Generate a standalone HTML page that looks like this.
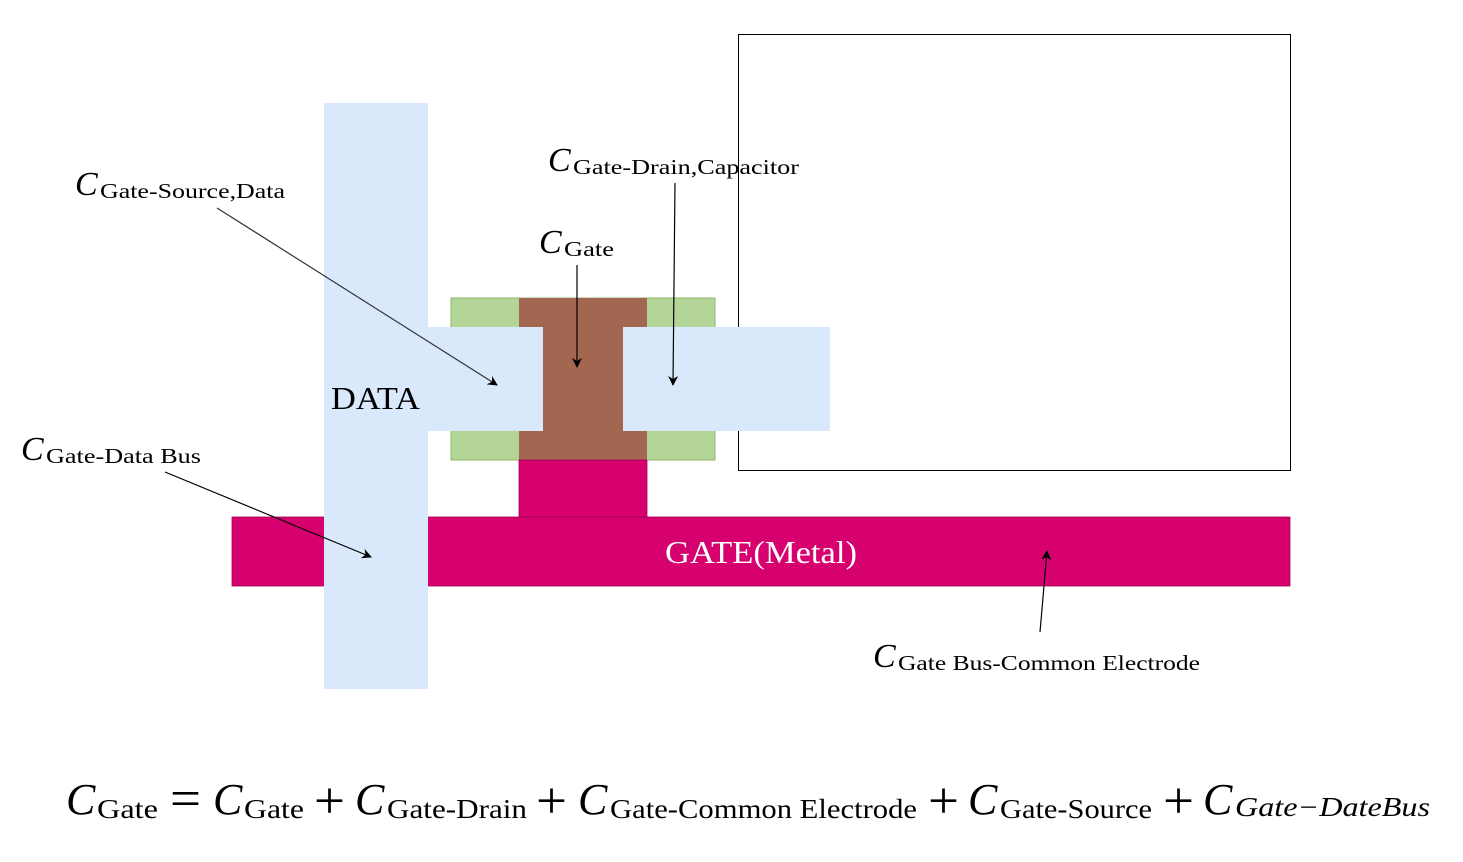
<!DOCTYPE html>
<html><head><meta charset="utf-8"><style>html,body{margin:0;padding:0;background:#fff}svg{display:block}</style></head>
<body>
<svg width="1463" height="862" viewBox="0 0 1463 862" xmlns="http://www.w3.org/2000/svg" font-family="'Liberation Serif', serif">
<defs><marker id="a" markerWidth="10" markerHeight="10" refX="9" refY="5" orient="auto" markerUnits="userSpaceOnUse"><path d="M0,0 L10,5 L0,10 L3,5 z" fill="#000"/></marker></defs>
<rect x="738.5" y="34.5" width="552" height="436" fill="#fff" stroke="#000" stroke-width="1"/>
<rect x="451" y="298" width="264" height="162" fill="#b3d597" stroke="#8cb56e" stroke-width="1"/>
<rect x="519" y="298" width="128" height="162" fill="#a36650"/>
<rect x="519" y="460" width="128" height="57" fill="#d6006f" stroke="#a50055" stroke-width="0.8"/>
<rect x="232" y="517" width="1058" height="69" fill="#d6006f" stroke="#a50055" stroke-width="0.8"/>
<rect x="324" y="103" width="104" height="586" fill="#dae8fb"/>
<rect x="428" y="327" width="115" height="104" fill="#dae8fb"/>
<rect x="623" y="327" width="207" height="104" fill="#dae8fb"/>
<text x="331" y="409" font-size="32" textLength="89" lengthAdjust="spacingAndGlyphs">DATA</text>
<text x="665" y="563" font-size="32" fill="#fff" textLength="192" lengthAdjust="spacingAndGlyphs">GATE(Metal)</text>
<g stroke="#000" stroke-width="1.2" fill="none" marker-end="url(#a)">
<line x1="217" y1="208" x2="497" y2="385" stroke="#333"/>
<line x1="577" y1="265" x2="577" y2="367"/>
<line x1="675" y1="183" x2="673" y2="385"/>
<line x1="165" y1="472" x2="371" y2="557"/>
<line x1="1040" y1="632" x2="1047" y2="551"/>
</g>
<g font-size="34" font-style="italic">
<text x="75" y="195">C</text><text x="548" y="171">C</text><text x="539" y="253">C</text><text x="21" y="460">C</text><text x="873" y="667">C</text>
</g>
<g font-size="21">
<text x="100" y="198" textLength="185" lengthAdjust="spacingAndGlyphs">Gate-Source,Data</text>
<text x="573" y="174" textLength="226" lengthAdjust="spacingAndGlyphs">Gate-Drain,Capacitor</text>
<text x="564" y="256" textLength="50" lengthAdjust="spacingAndGlyphs">Gate</text>
<text x="46" y="463" textLength="155" lengthAdjust="spacingAndGlyphs">Gate-Data Bus</text>
<text x="898" y="670" textLength="302" lengthAdjust="spacingAndGlyphs">Gate Bus-Common Electrode</text>
</g>
<g font-size="44" font-style="italic">
<text x="66" y="814">C</text><text x="213" y="814">C</text><text x="355" y="814">C</text><text x="578" y="814">C</text><text x="968" y="814">C</text><text x="1203" y="814">C</text>
</g>
<g font-size="52">
<text x="170" y="816" textLength="31" lengthAdjust="spacingAndGlyphs">=</text>
<text x="314" y="818" textLength="31" lengthAdjust="spacingAndGlyphs">+</text>
<text x="536" y="818" textLength="31" lengthAdjust="spacingAndGlyphs">+</text>
<text x="928" y="818" textLength="31" lengthAdjust="spacingAndGlyphs">+</text>
<text x="1163" y="818" textLength="31" lengthAdjust="spacingAndGlyphs">+</text>
</g>
<g font-size="27">
<text x="97" y="818" textLength="61" lengthAdjust="spacingAndGlyphs">Gate</text>
<text x="244" y="818" textLength="60" lengthAdjust="spacingAndGlyphs">Gate</text>
<text x="387" y="818" textLength="140" lengthAdjust="spacingAndGlyphs">Gate-Drain</text>
<text x="610" y="818" textLength="307" lengthAdjust="spacingAndGlyphs">Gate-Common Electrode</text>
<text x="1000" y="818" textLength="152" lengthAdjust="spacingAndGlyphs">Gate-Source</text>
<text x="1235" y="816" textLength="195" lengthAdjust="spacingAndGlyphs" font-style="italic">Gate−DateBus</text>
</g>
</svg>
</body></html>
